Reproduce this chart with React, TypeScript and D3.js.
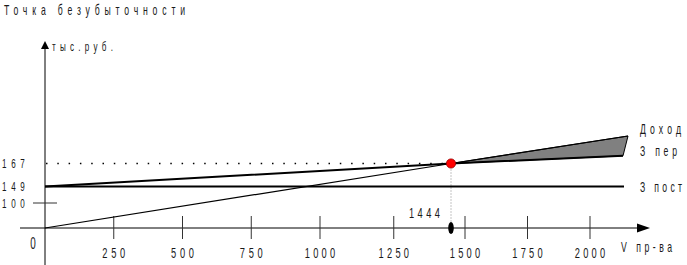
import React from "react";
import * as d3 from "d3";

// ---- data ----
const title = "Точка безубыточности";
const yUnit = "тыс.руб.";
const xUnit = "V пр-ва";
const xTicks = [250, 500, 750, 1000, 1250, 1500, 1750, 2000];
const yTicks = [0, 100, 149, 167];
const breakEvenV = 1444;
const breakEvenR = 167;
// series: [volume, value]
const revenue: [number, number][] = [[0, 0], [1444, 167], [2152, 188.5]];
const totalCost: [number, number][] = [[0, 149], [1444, 167], [2132, 173]];
const fixedCostLine: [number, number][] = [[0, 149], [2136, 149]];
const seriesLabels = ["Доход", "З пер", "З пост"];

const W = 687;
const H = 265;
const FONT = "'Liberation Sans', Arial, sans-serif";
const SX = 0.62;

function NText(props: {
  x: number;
  y: number;
  size: number;
  len?: number;
  anchor?: "start" | "middle" | "end";
  children: React.ReactNode;
}) {
  const { x, y, size, len, anchor = "start", children } = props;
  return (
    <text
      transform={`translate(${x},${y}) scale(${SX},1)`}
      fontSize={size}
      fontFamily={FONT}
      fill="#1a1a1a"
      textAnchor={anchor}
      {...(len ? { textLength: len / SX, lengthAdjust: "spacing" } : {})}
    >
      {children}
    </text>
  );
}

export default function App() {
  // schematic (non-uniform) axes, as in the original drawing
  const x = d3.scaleLinear().domain([0, 1000, 1444, 2000]).range([45, 320, 451, 590]);
  const y = d3.scaleLinear().domain([0, 100, 149, 167]).range([228, 203, 186.5, 163.5]);
  const line = d3.line<[number, number]>().x((d) => x(d[0])).y((d) => y(d[1]));

  const x0 = x(0);
  const y0 = y(0);
  const bx = x(breakEvenV);
  const by = y(breakEvenR);
  const revEnd = revenue[revenue.length - 1];
  const tcEnd = totalCost[totalCost.length - 1];
  const profitArea: [number, number][] = [[breakEvenV, breakEvenR], revEnd, tcEnd];

  return (
    <svg width={W} height={H} style={{ position: "absolute", left: 0, top: 0, background: "#fff" }}>
      <rect width={W} height={H} fill="#fff" />
      {/* title */}
      <NText x={4} y={15} size={14} len={181}>
        {title}
      </NText>

      {/* y axis */}
      <line x1={x0} x2={x0} y1={46} y2={H} stroke="#000" strokeWidth={1} />
      <path d={`M${x0},41 L${x0 + 4},49 L${x0 - 4},49 Z`} fill="#000" />
      <NText x={52} y={51} size={13} len={61}>
        {yUnit}
      </NText>

      {/* x axis */}
      <line x1={20} x2={642} y1={y0} y2={y0} stroke="#000" strokeWidth={1} />
      <path d={`M650,${y0} L637,${y0 - 4.5} L637,${y0 + 4.5} Z`} fill="#000" />
      <NText x={621} y={252} size={14} len={51}>
        {xUnit}
      </NText>

      {/* x ticks */}
      {xTicks.map((t) => (
        <g key={t}>
          <line x1={x(t)} x2={x(t)} y1={y0 - 12} y2={y0 + 11} stroke="#333" strokeWidth={1} />
          <NText x={x(t)} y={258} size={15} anchor="middle" len={String(t).length * 7.6}>
            {t}
          </NText>
        </g>
      ))}

      {/* y tick labels */}
      {yTicks.map((t) =>
        t === 0 ? (
          <NText key={t} x={33} y={249} size={16} anchor="middle">
            {t}
          </NText>
        ) : (
          <NText key={t} x={2} y={y(t) + 4.5} size={13} len={String(t).length * 7.6}>
            {t}
          </NText>
        )
      )}
      {/* 100 tick */}
      <line x1={33} x2={57} y1={y(100)} y2={y(100)} stroke="#333" strokeWidth={1} />

      {/* dotted guide at breakeven revenue */}
      <line
        x1={x0 + 1}
        x2={bx}
        y1={by}
        y2={by}
        stroke="#000"
        strokeWidth={1.5}
        strokeDasharray="1.5 9.8"
      />
      {/* vertical dotted guide */}
      <line x1={bx} x2={bx} y1={by} y2={y0} stroke="#888" strokeWidth={1} strokeDasharray="1 2" />

      {/* profit area */}
      <path d={line(profitArea)! + "Z"} fill="#808080" stroke="#000" strokeWidth={1} />

      {/* lines */}
      <path d={line(fixedCostLine)!} fill="none" stroke="#000" strokeWidth={2.2} />
      <path d={line(totalCost)!} fill="none" stroke="#000" strokeWidth={2} />
      <path d={line(revenue)!} fill="none" stroke="#000" strokeWidth={1.2} />

      {/* breakeven markers */}
      <ellipse cx={bx} cy={y0} rx={2.8} ry={6} fill="#000" />
      <circle cx={bx} cy={by} r={4.6} fill="#ff0000" stroke="#990000" strokeWidth={0.8} />
      <NText x={409} y={218} size={15} len={31}>
        {breakEvenV}
      </NText>

      {/* series labels */}
      <NText x={640} y={134} size={14} len={41}>
        {seriesLabels[0]}
      </NText>
      <NText x={640} y={156} size={14} len={37}>
        {seriesLabels[1]}
      </NText>
      <NText x={640} y={192} size={14} len={42}>
        {seriesLabels[2]}
      </NText>
    </svg>
  );
}
